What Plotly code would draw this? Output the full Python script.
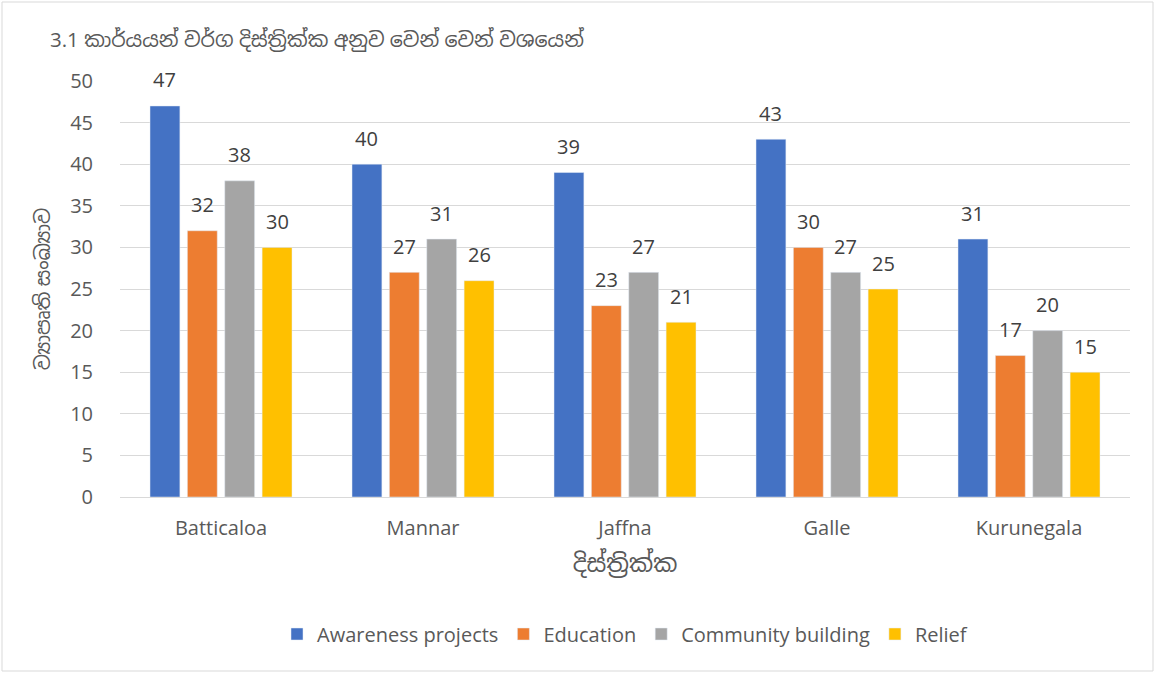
import plotly.graph_objects as go

districts = ["Batticaloa", "Mannar", "Jaffna", "Galle", "Kurunegala"]
series_names = ["Awareness projects", "Education", "Community building", "Relief"]
awareness = [47, 40, 39, 43, 31]
education = [32, 27, 23, 30, 17]
community = [38, 31, 27, 27, 20]
relief = [30, 26, 21, 25, 15]
colors = ["#4472C4", "#ED7D31", "#A5A5A5", "#FFC000"]

title_text = "3.1 කාර්යයන් වර්ග දිස්ත්‍රික්ක අනුව වෙන් වෙන් වශයෙන්"
y_title = "ව්‍යාපෘති සංඛ්‍යාව"
x_title = "දිස්ත්‍රික්ක"

FONT = "Open Sans, Noto Sans, Noto Sans Sinhala, DejaVu Sans, sans-serif"
L, R, T, B = 120, 26, 81, 177
W, H = 1156, 674
pw, ph = W - L - R, H - T - B
BARGAP, GROUPGAP = 0.26, 0.2
slot = pw * (1 - BARGAP) / len(districts) / len(series_names)

fig = go.Figure()
all_vals = [awareness, education, community, relief]
for i, (name, vals, col) in enumerate(zip(series_names, all_vals, colors)):
    fig.add_trace(go.Bar(x=districts, y=vals, name=name, marker_color=col))
    for d, v in zip(districts, vals):
        fig.add_annotation(x=d, y=v, xref="x", yref="y", text=str(v), showarrow=False,
                           xshift=(i - 1.5) * slot, yshift=26, yanchor="middle",
                           font=dict(size=20, color="#404040", family=FONT))

fig.update_layout(
    width=W, height=H,
    margin=dict(l=L, r=R, t=T, b=B),
    paper_bgcolor="white", plot_bgcolor="white",
    barmode="group", bargap=BARGAP, bargroupgap=GROUPGAP,
    font=dict(family=FONT, color="#595959", size=20),
    title=dict(text=title_text, x=50 / W, xanchor="left", y=1 - 40 / H, yanchor="middle",
               font=dict(size=20.5, color="#595959", family=FONT)),
    xaxis=dict(showgrid=False, showline=True, linecolor="#D9D9D9", ticks="",
               tickfont=dict(size=20, color="#595959"), ticklabelstandoff=13,
               title=dict(text=x_title, font=dict(size=24, color="#595959"), standoff=15)),
    yaxis=dict(range=[0, 50], dtick=5, showgrid=True, gridcolor="#D9D9D9", zeroline=False,
               showline=False, ticks="", tickfont=dict(size=20, color="#595959"),
               ticklabelstandoff=26,
               title=dict(text=y_title, font=dict(size=20, color="#595959"), standoff=14)),
    legend=dict(orientation="h", x=0.5, xanchor="center", y=-(634 - (H - B)) / ph, yanchor="middle",
                font=dict(size=20, color="#595959"), traceorder="normal", itemwidth=30),
    showlegend=True,
    hovermode=False,
)
fig.add_shape(type="rect", xref="paper", yref="paper",
              x0=(2 - L) / pw, x1=(W - 3 - L) / pw,
              y0=((H - B) - (H - 3)) / ph, y1=((H - B) - 2) / ph,
              line=dict(color="#D9D9D9", width=1), layer="below")
fig.write_html("out.html", post_script="document.body.style.margin='0';",
               config={"displayModeBar": False})
